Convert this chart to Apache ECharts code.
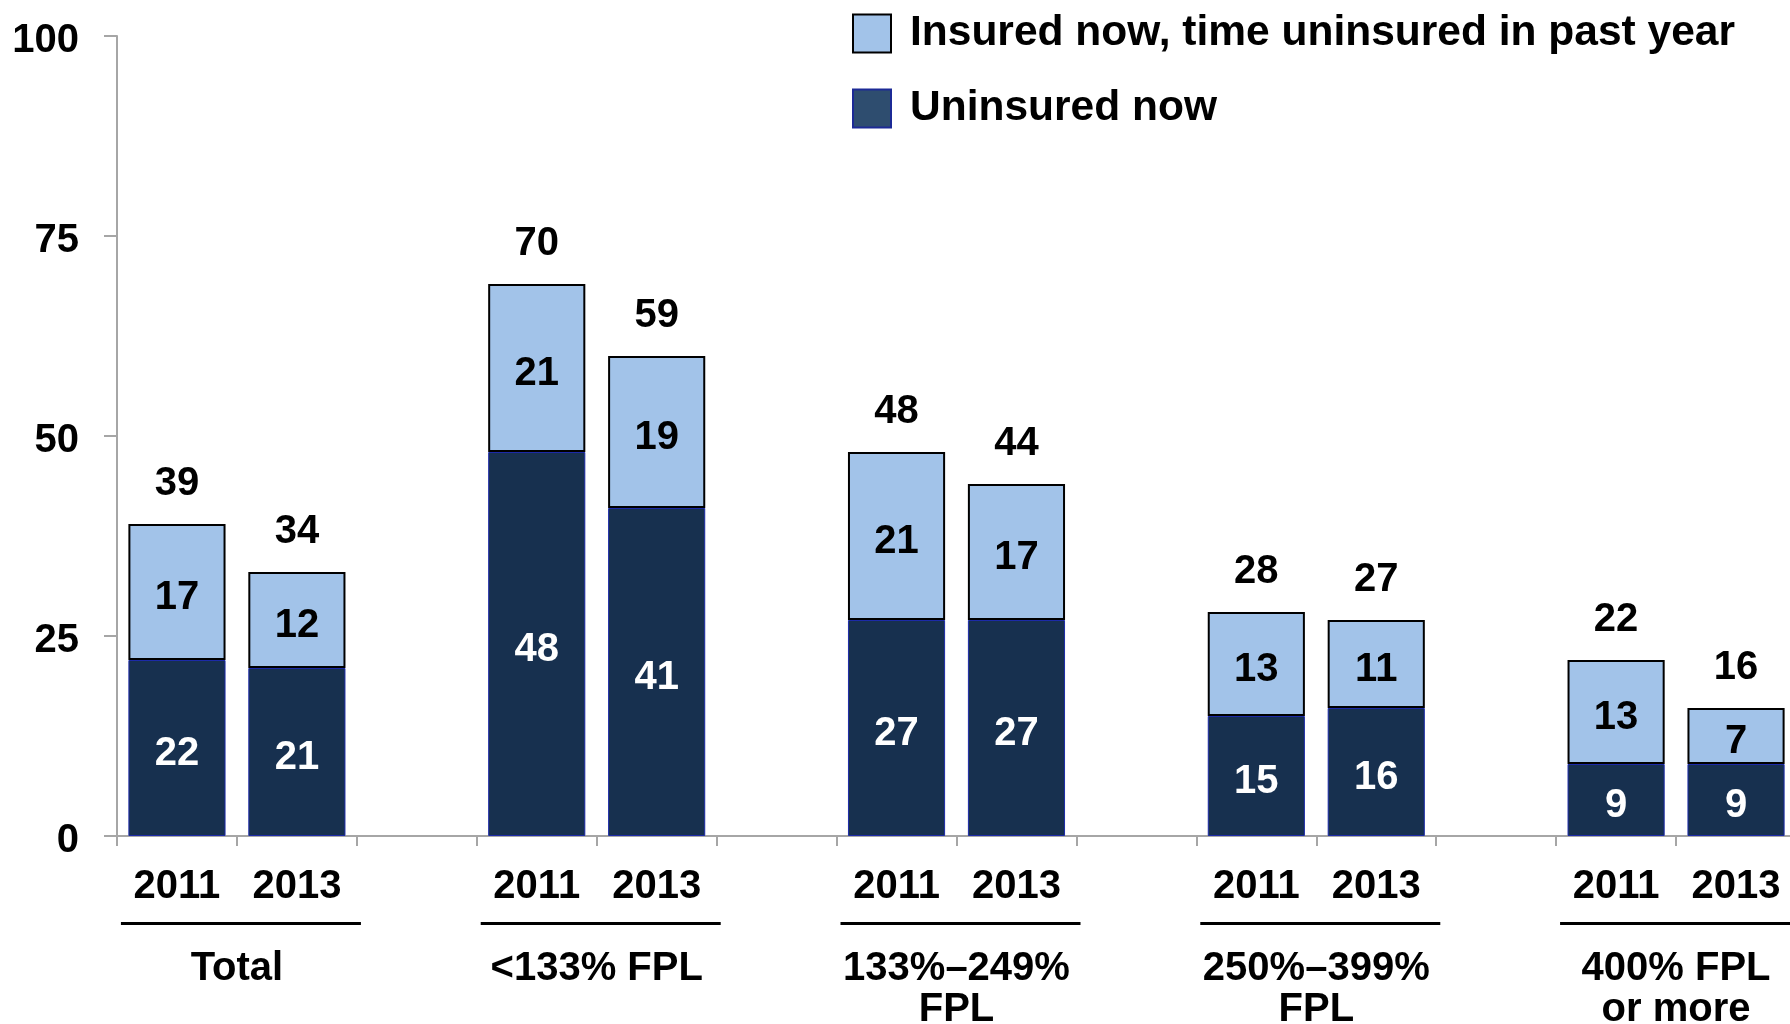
<!DOCTYPE html>
<html>
<head>
<meta charset="utf-8">
<script src="https://cdn.jsdelivr.net/npm/echarts@6/dist/echarts.min.js"></script>
<style>
  html, body { margin: 0; padding: 0; background: #fff; }
  #chart { width: 1790px; height: 1024px; }
</style>
</head>
<body>
<div id="chart"></div>
<script>
// one slot per bar, empty slots between income groups
const years = ['2011', '2013', '', '2011', '2013', '', '2011', '2013', '', '2011', '2013', '', '2011', '2013'];
// group names sit on slot boundaries (15 boundary points)
const groupNames = ['', 'Total', '', '', '<133% FPL', '', '', '133%\u2013249%\nFPL', '', '', '250%\u2013399%\nFPL', '', '', '400% FPL\nor more', ''];
const uninsuredNow = [22, 21, null, 48, 41, null, 27, 27, null, 15, 16, null, 9, 9];
const insuredGap = [17, 12, null, 21, 19, null, 21, 17, null, 13, 11, null, 13, 7];
const totals = [39, 34, null, 70, 59, null, 48, 44, null, 28, 27, null, 22, 16];
const yTicks = { min: 0, max: 100, interval: 25 };

const FONT = "'Liberation Sans', Arial, sans-serif";
const DARK = '#17304f';
const LIGHT = '#a2c3e9';
const AXIS = '#a6a6a6';

const chart = echarts.init(document.getElementById('chart'));

const label = (color) => ({
  show: true,
  position: 'inside',
  offset: [0, 6],
  color: color,
  fontFamily: FONT,
  fontWeight: 'bold',
  fontSize: 40,
});

const option = {
  animation: false,
  backgroundColor: '#fff',
  legend: {
    orient: 'vertical',
    left: 852,
    top: 12,
    padding: 0,
    itemWidth: 38,
    itemHeight: 38,
    itemGap: 32,
    icon: 'rect',
    selectedMode: false,
    textStyle: {
      fontFamily: FONT,
      fontWeight: 'bold',
      fontSize: 42.5,
      color: '#000',
      padding: [0, 0, 0, 14],
    },
    data: [
      { name: 'Insured now, time uninsured in past year', itemStyle: { color: LIGHT, borderColor: '#000', borderWidth: 2 } },
      { name: 'Uninsured now', itemStyle: { color: '#2e4d6f', borderColor: '#1c2a96', borderWidth: 2 } },
    ],
  },
  grid: { left: 117, top: 36, width: 1679, height: 800, outerBoundsMode: 'none' },
  xAxis: [
    {
      type: 'category',
      data: years,
      position: 'bottom',
      boundaryGap: true,
      axisLine: { lineStyle: { color: AXIS, width: 2 } },
      axisTick: { show: true, interval: 0, length: 10, lineStyle: { color: AXIS, width: 2 } },
      axisLabel: {
        interval: 0,
        margin: 31,
        color: '#000',
        fontFamily: FONT,
        fontWeight: 'bold',
        fontSize: 40,
        lineHeight: 40,
      },
    },
    {
      // separator rules under each pair of years
      type: 'category',
      data: groupNames.map((g) => (g ? 'rule' : '')),
      position: 'bottom',
      offset: 0,
      boundaryGap: false,
      axisLine: { show: false },
      axisTick: { show: false },
      axisLabel: {
        interval: 0,
        margin: 86,
        padding: [0, 0, 0, 8],
        formatter: (v) => (v ? '{r|}' : ''),
        rich: { r: { width: 240, height: 3, lineHeight: 3, backgroundColor: '#000' } },
      },
    },
    {
      // income group names
      type: 'category',
      data: groupNames,
      position: 'bottom',
      offset: 0,
      boundaryGap: false,
      axisLine: { show: false },
      axisTick: { show: false },
      axisLabel: {
        interval: 0,
        margin: 112,
        color: '#000',
        fontFamily: FONT,
        fontWeight: 'bold',
        fontSize: 40,
        lineHeight: 41,
      },
    },
  ],
  yAxis: {
    type: 'value',
    min: yTicks.min,
    max: yTicks.max,
    interval: yTicks.interval,
    axisLine: { show: true, lineStyle: { color: AXIS, width: 2 } },
    axisTick: { show: true, length: 13, lineStyle: { color: AXIS, width: 2 } },
    splitLine: { show: false },
    axisLabel: {
      margin: 38,
      verticalAlign: 'top',
      lineHeight: 10,
      color: '#000',
      fontFamily: FONT,
      fontWeight: 'bold',
      fontSize: 40,
    },
  },
  series: [
    {
      name: 'Uninsured now',
      type: 'bar',
      stack: 'share',
      barCategoryGap: '19%',
      data: uninsuredNow,
      itemStyle: { color: DARK, borderColor: '#1c2aa8', borderWidth: 1 },
      label: label('#fff'),
    },
    {
      name: 'Insured now, time uninsured in past year',
      type: 'bar',
      stack: 'share',
      barCategoryGap: '19%',
      data: insuredGap,
      itemStyle: { color: LIGHT, borderColor: '#000', borderWidth: 2 },
      label: label('#000'),
    },
    {
      // zero-height cap carrying the reported total
      name: 'total',
      type: 'bar',
      stack: 'share',
      barCategoryGap: '19%',
      data: totals.map((t) => (t == null ? null : 0)),
      itemStyle: { color: 'transparent', borderWidth: 0 },
      label: {
        show: true,
        position: 'top',
        distance: 20,
        color: '#000',
        fontFamily: FONT,
        fontWeight: 'bold',
        fontSize: 40,
        formatter: (p) => String(totals[p.dataIndex]),
      },
    },
  ],
};

chart.setOption(option);
</script>
</body>
</html>
